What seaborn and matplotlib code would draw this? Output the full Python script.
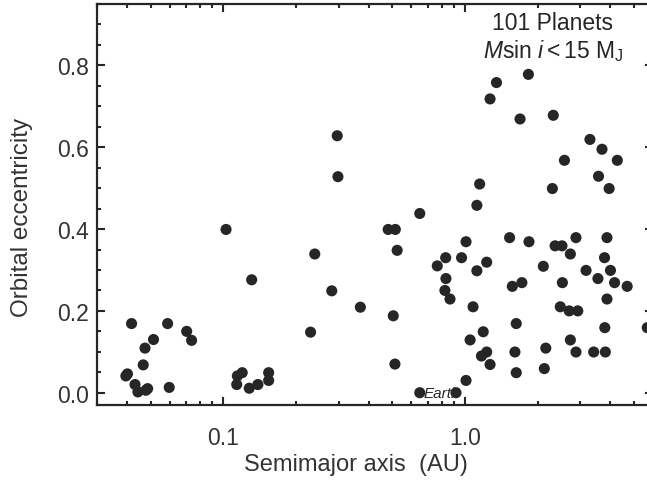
import numpy as np
import pandas as pd
import matplotlib
matplotlib.use("Agg")
import matplotlib.pyplot as plt
import matplotlib.ticker as mticker
import seaborn as sns

# semimajor axis (AU) and eccentricity
semimajor = [
    0.0417, 0.0401, 0.0395, 0.0431, 0.0443, 0.0478, 0.0486, 0.0466, 0.0474, 0.0514,
    0.0597, 0.0588, 0.0705, 0.0739, 0.1143, 0.1197, 0.1136, 0.128, 0.139, 0.154,
    0.154, 0.131, 0.1026, 0.296, 0.298, 0.239, 0.2296, 0.281, 0.369, 0.650,
    0.481, 0.515, 0.524, 0.505, 0.513, 0.650,
    3.69, 2.58, 4.27, 3.57, 3.95, 2.30, 1.15, 1.12,
    1.01, 0.832, 0.768, 0.968, 1.23, 1.12, 0.834, 0.826, 0.867, 1.08,
    1.53, 1.84, 2.36, 2.52,
    2.88, 3.87, 2.73, 3.78, 2.11, 3.17, 4.00, 3.55, 4.16, 4.69, 2.53,
    1.57, 1.72, 3.87, 2.48, 2.70, 2.93,
    1.63, 3.79, 1.19, 1.05, 2.73, 1.23, 1.17, 1.27, 1.61, 2.16,
    2.88, 3.41, 3.81, 1.63, 2.13, 1.01, 0.918, 5.68,
    1.83, 1.35, 1.27, 1.69, 2.32, 3.29,
]
eccentricity = [
    0.169, 0.046, 0.041, 0.020, 0.002, 0.006, 0.010, 0.068, 0.109, 0.130,
    0.013, 0.169, 0.150, 0.128, 0.041, 0.049, 0.020, 0.011, 0.020, 0.049,
    0.030, 0.276, 0.399, 0.628, 0.528, 0.339, 0.148, 0.249, 0.209, 0.438,
    0.399, 0.399, 0.348, 0.188, 0.070, 0.000,
    0.595, 0.568, 0.568, 0.529, 0.499, 0.499, 0.510, 0.458,
    0.369, 0.330, 0.310, 0.330, 0.319, 0.298, 0.279, 0.250, 0.229, 0.210,
    0.379, 0.369, 0.359, 0.359,
    0.379, 0.379, 0.339, 0.330, 0.309, 0.299, 0.299, 0.279, 0.269, 0.260, 0.269,
    0.260, 0.269, 0.229, 0.210, 0.200, 0.200,
    0.169, 0.159, 0.149, 0.129, 0.129, 0.0995, 0.0897, 0.069, 0.0995, 0.109,
    0.0995, 0.0995, 0.0995, 0.049, 0.059, 0.030, 0.000, 0.159,
    0.778, 0.758, 0.718, 0.669, 0.678, 0.619,
]

planets = pd.DataFrame({"a": semimajor, "e": eccentricity})

sns.set_style("ticks")
plt.rcParams["font.family"] = ["Liberation Sans", "DejaVu Sans"]
plt.rcParams["mathtext.fontset"] = "custom"
plt.rcParams["mathtext.rm"] = "Liberation Sans"
plt.rcParams["mathtext.it"] = "Liberation Sans:italic"

fig = plt.figure(figsize=(6.47, 4.89), dpi=100)
ax = fig.add_axes([97 / 647, 83 / 489, 556 / 647, 401 / 489])

sns.scatterplot(data=planets, x="a", y="e", ax=ax, s=64, color="#262626",
                edgecolor="none")

ax.set_xscale("log")
ax.set_xlim(0.03, 6)
ax.set_ylim(-0.03, 0.95)

ax.xaxis.set_major_locator(mticker.FixedLocator([0.1, 1.0]))
ax.xaxis.set_major_formatter(mticker.FixedFormatter(["0.1", "1.0"]))
ax.xaxis.set_minor_locator(mticker.LogLocator(base=10, subs=np.arange(2, 10)))
ax.xaxis.set_minor_formatter(mticker.NullFormatter())
ax.yaxis.set_major_locator(mticker.MultipleLocator(0.2))
ax.yaxis.set_major_formatter(mticker.FormatStrFormatter("%.1f"))
ax.yaxis.set_minor_locator(mticker.MultipleLocator(0.05))

ax.tick_params(which="both", direction="in", top=True, right=True,
               width=1.5, color="#262626", labelsize=16.5, labelcolor="#333333")
ax.tick_params(which="major", length=6)
ax.tick_params(which="minor", length=3)
ax.tick_params(axis="x", which="major", pad=15)
ax.tick_params(axis="y", which="major", pad=6)
for sp in ax.spines.values():
    sp.set_linewidth(1.6)
    sp.set_color("#262626")

ax.set_xlabel("Semimajor axis  (AU)", fontsize=17, color="#333333")
ax.set_ylabel("Orbital eccentricity", fontsize=17.5, color="#333333")
ax.xaxis.set_label_coords(0.466, -0.12)
ax.yaxis.set_label_coords(-0.115, 0.47)

ax.text(0.82, 0.955, "101 Planets", transform=ax.transAxes, ha="center",
        va="center", fontsize=16.5, color="#262626")
ax.text(0.82, 0.885, r"$M\mathrm{sin}\ i < 15\ \mathrm{M_J}$", transform=ax.transAxes,
        ha="center", va="center", fontsize=16.5, color="#262626")
ax.text(0.675, 0.0, "Earth", fontsize=11, style="italic", va="center",
        ha="left", color="#262626")

fig.savefig("out.png", dpi=100)
